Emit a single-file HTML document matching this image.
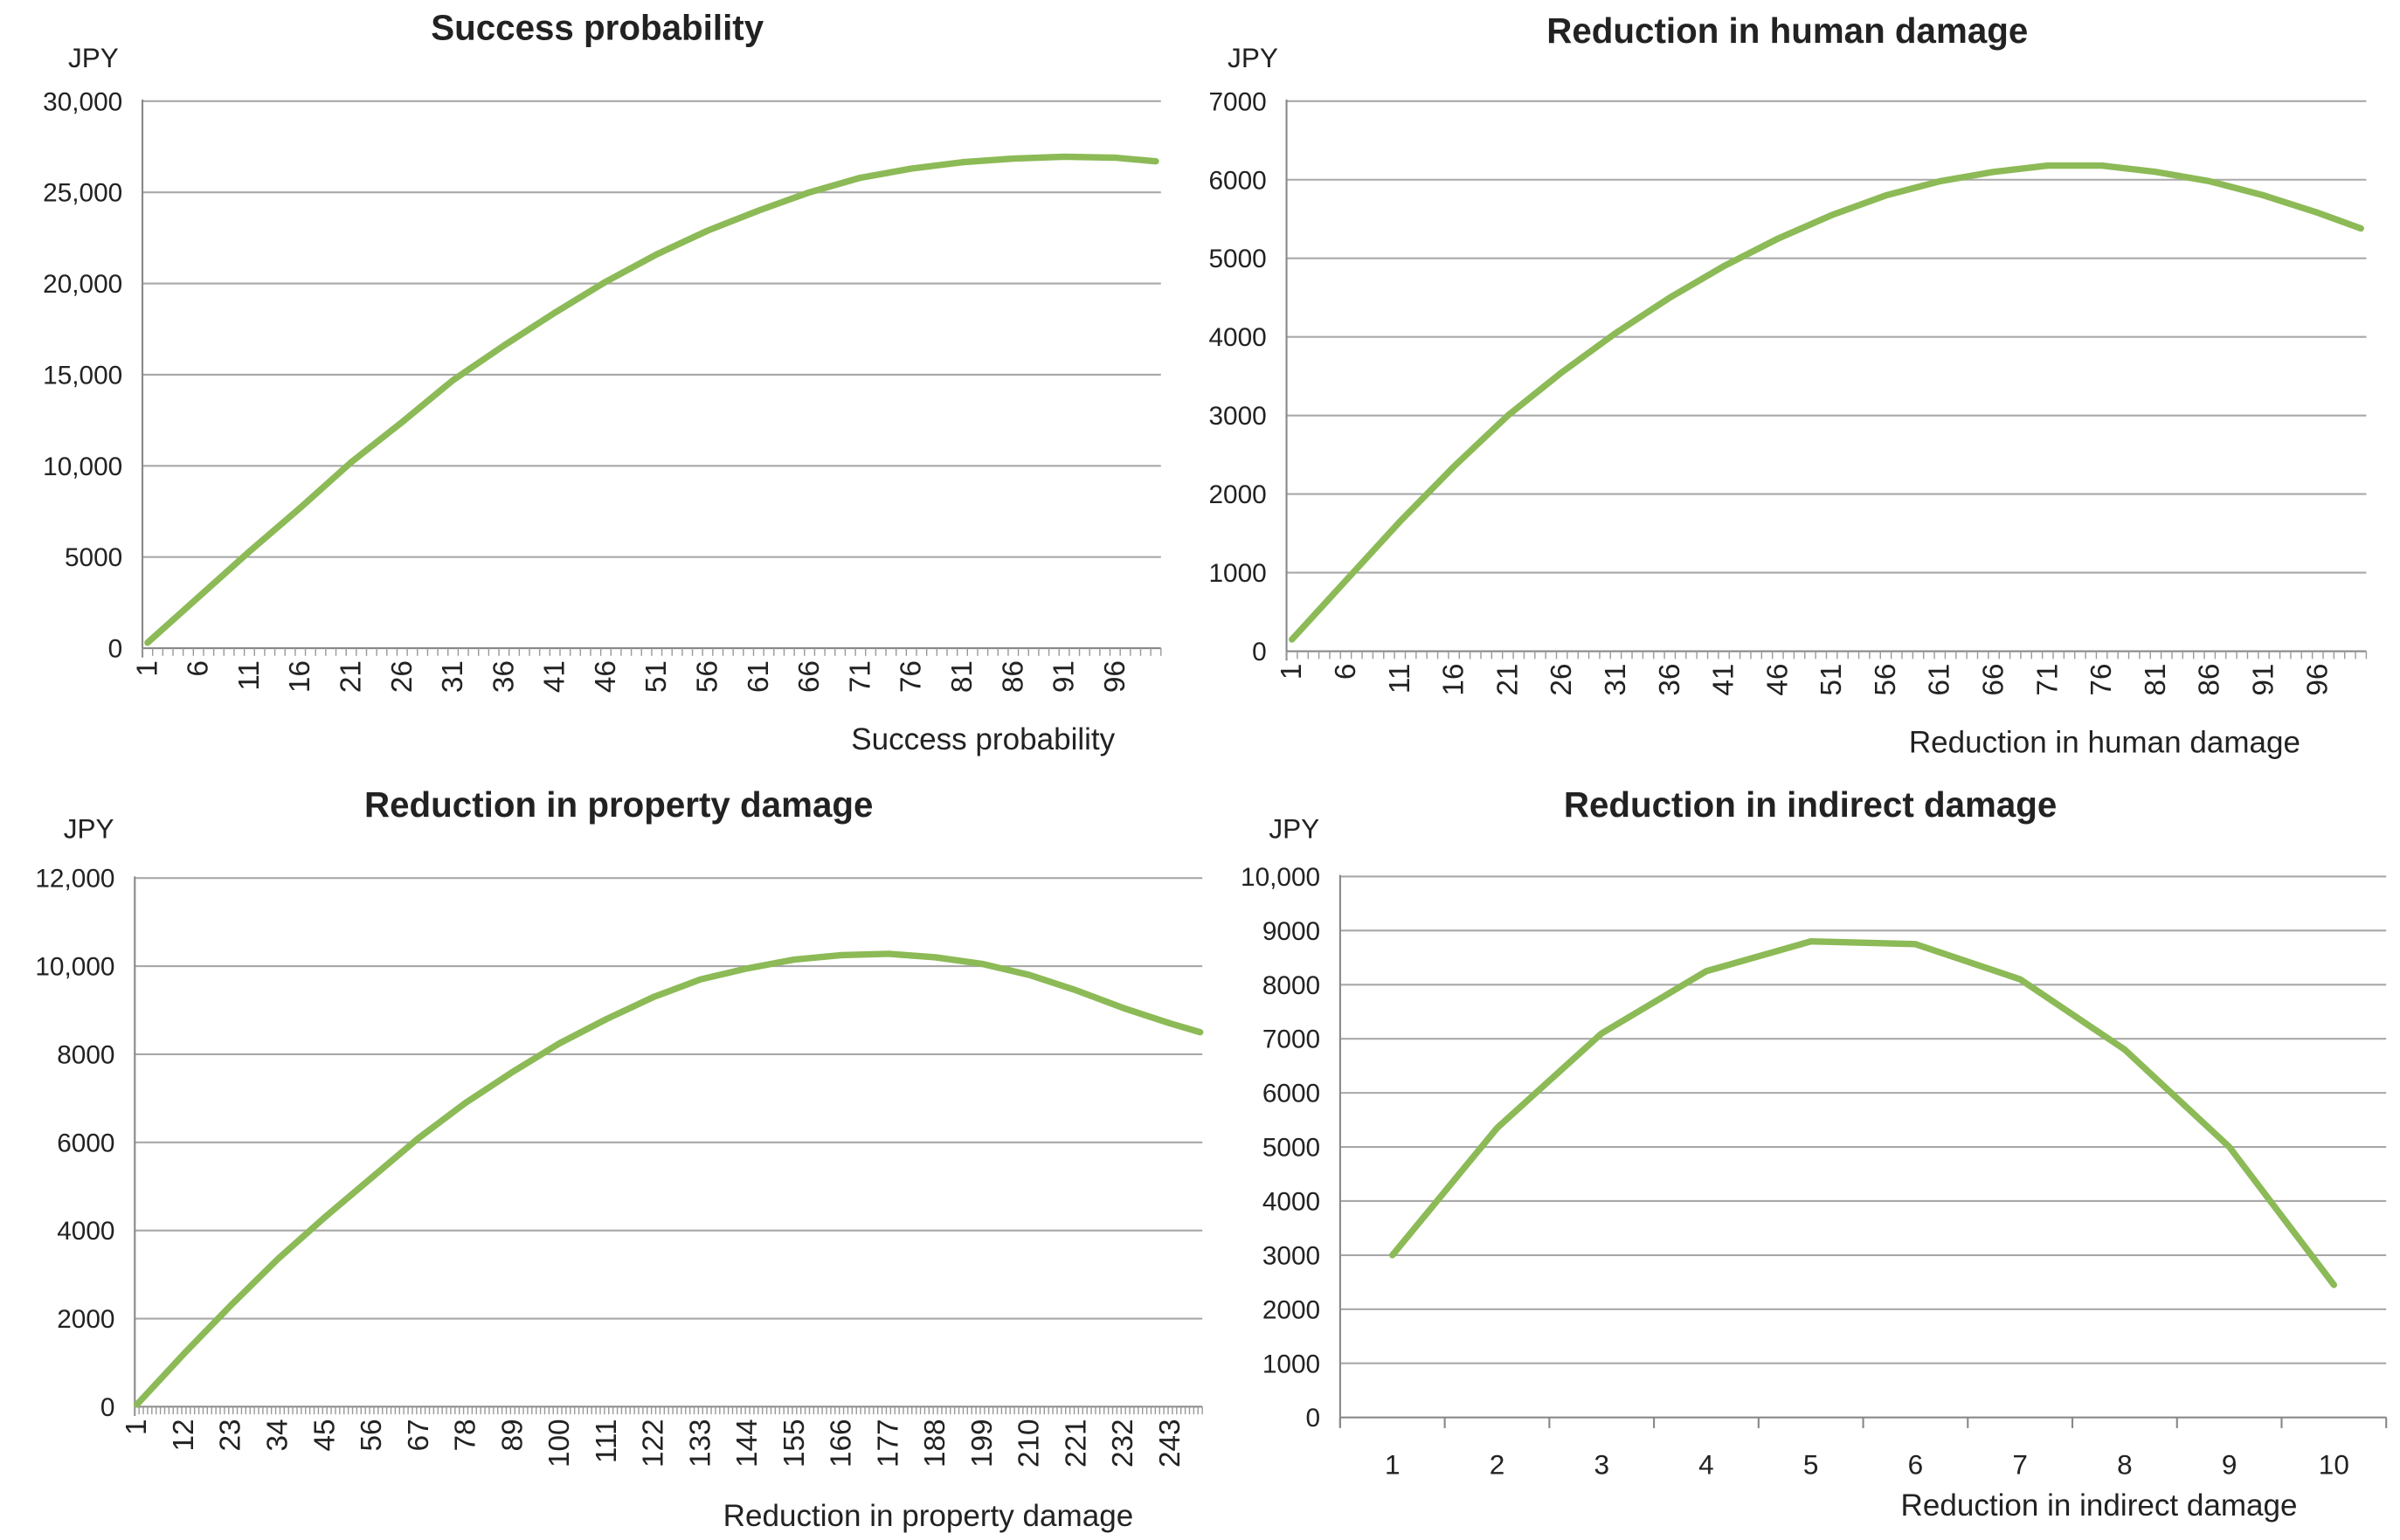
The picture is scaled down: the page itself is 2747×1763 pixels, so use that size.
<!DOCTYPE html>
<html><head><meta charset="utf-8"><style>
html,body{margin:0;padding:0;background:#fff}
svg{display:block}
text{font-family:"Liberation Sans",sans-serif;fill:#222}
</style></head><body>
<svg id="fig" width="2747" height="1763" viewBox="0 0 1567 1005" preserveAspectRatio="none" xmlns="http://www.w3.org/2000/svg"></svg>
<script>
// ---- Chart 1: Success probability ----
const c1Count = 100;
const c1SampleX = [1,6,11,16,21,26,31,36,41,46,51,56,61,66,71,76,81,86,91,96,100];
const c1Values = [300,2800,5300,7700,10200,12400,14700,16600,18400,20100,21600,22900,24000,25000,25800,26300,26650,26850,26950,26900,26700];
const c1Ticks = [0,5000,10000,15000,20000,25000,30000];
const c1TickLabels = ["0","5000","10,000","15,000","20,000","25,000","30,000"];
// ---- Chart 2: Reduction in human damage ----
const c2Count = 100;
const c2SampleX = [1,6,11,16,21,26,31,36,41,46,51,56,61,66,71,76,81,86,91,96,100];
const c2Values = [150,900,1650,2350,3000,3550,4050,4500,4900,5250,5550,5800,5980,6100,6180,6180,6100,5980,5800,5580,5380];
const c2Ticks = [0,1000,2000,3000,4000,5000,6000,7000];
const c2TickLabels = ["0","1000","2000","3000","4000","5000","6000","7000"];
// ---- Chart 3: Reduction in property damage ----
const c3Count = 250;
const c3SampleX = [1,12,23,34,45,56,67,78,89,100,111,122,133,144,155,166,177,188,199,210,221,232,243,250];
const c3Values = [50,1200,2300,3350,4300,5200,6100,6900,7600,8250,8800,9300,9700,9950,10150,10250,10280,10200,10050,9800,9450,9050,8700,8500];
const c3Ticks = [0,2000,4000,6000,8000,10000,12000];
const c3TickLabels = ["0","2000","4000","6000","8000","10,000","12,000"];
// ---- Chart 4: Reduction in indirect damage ----
const c4Categories = ["1","2","3","4","5","6","7","8","9","10"];
const c4Values = [3000,5350,7100,8250,8800,8750,8100,6800,5000,2450];
const c4Ticks = [0,1000,2000,3000,4000,5000,6000,7000,8000,9000,10000];
const c4TickLabels = ["0","1000","2000","3000","4000","5000","6000","7000","8000","9000","10,000"];

const NS="http://www.w3.org/2000/svg";
const svg=document.getElementById('fig');
function mk(tag,attrs,parent,txt){const e=document.createElementNS(NS,tag);for(const k in attrs)e.setAttribute(k,attrs[k]);if(txt!==undefined)e.textContent=txt;(parent||svg).appendChild(e);return e;}

function chart(o){
  const g=mk('g',{});
  
  
  const ymax=o.ticks[o.ticks.length-1];
  const ys=v=>o.y0-(v/ymax)*(o.y0-o.y1);
  const n=o.count;
  const band=(o.x1-o.x0)/n;
  const xs=i=>o.x0+(i-0.5)*band;
  o.ticks.forEach((t,k)=>{
    const y=ys(t);
    const gl=mk('line',{x1:o.x0,x2:o.x1,y1:y,y2:y,stroke:t===0?'#888':'#a8a8a8','stroke-width':1.2},g);
    
    
    const tl=mk('text',{x:o.x0-13,y:y+6,'text-anchor':'end','font-size':17,fill:'#333'},g,o.tickLabels[k]);
    
    
  });
  const ax=mk('line',{x1:o.x0,x2:o.x0,y1:o.y1-1,y2:o.y0+6,stroke:'#888','stroke-width':1.2},g);
  
  
  if(o.cats){
    for(let i=0;i<=n;i++){
      const x=o.x0+i*band;
      mk('line',{x1:x,x2:x,y1:o.y0,y2:o.y0+7,stroke:'#888','stroke-width':1.2},g);
    }
    o.cats.forEach((c,i)=>{
      const tl=mk('text',{x:xs(i+1),y:o.y0+37,'text-anchor':'middle','font-size':18,fill:'#333'},g,c);
      
      
    });
  } else {
    for(let i=0;i<=n;i++){
      const x=o.x0+i*band;
      mk('line',{x1:x,x2:x,y1:o.y0,y2:o.y0+5,stroke:'#999','stroke-width':0.8},g);
    }
    for(let i=1;i<=n;i+=o.labelStep){
      const x=xs(i), y=o.y0+8;
      const tl=mk('text',{x:x,y:y,'text-anchor':'end','font-size':19,fill:'#333','dominant-baseline':'central',transform:`rotate(-90 ${x} ${y})`},g,String(i));
      
      
    }
  }
  const pts=o.sx.map((s,k)=>xs(s).toFixed(2)+','+ys(o.vals[k]).toFixed(2)).join(' ');
  const pl=mk('polyline',{points:pts,fill:'none',stroke:'#8cba56','stroke-width':4.2,'stroke-linejoin':'round','stroke-linecap':'round'},g);
  
  
  const t=mk('text',{x:o.titleX,y:o.titleY,'text-anchor':'middle','font-size':23,'font-weight':'bold'},g,o.title);
  
  
  const j=mk('text',{x:o.jpyX,y:o.jpyY,'text-anchor':'middle','font-size':18},g,'JPY');
  
  
  const xt=mk('text',{x:o.xtX,y:o.xtY,'text-anchor':'end','font-size':20,fill:'#333'},g,o.title);
  
  
}

chart({name:'chart-success-probability',title:'Success probability',x0:93,x1:758,y0:423,y1:66,ticks:c1Ticks,tickLabels:c1TickLabels,count:c1Count,labelStep:5,sx:c1SampleX,vals:c1Values,titleX:390,titleY:26,jpyX:61,jpyY:44,xtX:728,xtY:489});
chart({name:'chart-human-damage',title:'Reduction in human damage',x0:840,x1:1545,y0:425,y1:66,ticks:c2Ticks,tickLabels:c2TickLabels,count:c2Count,labelStep:5,sx:c2SampleX,vals:c2Values,titleX:1167,titleY:28,jpyX:818,jpyY:44,xtX:1502,xtY:491});
chart({name:'chart-property-damage',title:'Reduction in property damage',x0:88,x1:785,y0:918,y1:573,ticks:c3Ticks,tickLabels:c3TickLabels,count:c3Count,labelStep:11,sx:c3SampleX,vals:c3Values,titleX:404,titleY:533,jpyX:58,jpyY:547,xtX:740,xtY:996});
chart({name:'chart-indirect-damage',title:'Reduction in indirect damage',x0:875,x1:1558,y0:925,y1:572,ticks:c4Ticks,tickLabels:c4TickLabels,count:c4Categories.length,cats:c4Categories,sx:c4Categories.map((c,i)=>i+1),vals:c4Values,titleX:1182,titleY:533,jpyX:845,jpyY:547,xtX:1500,xtY:989});
</script>
</body></html>
